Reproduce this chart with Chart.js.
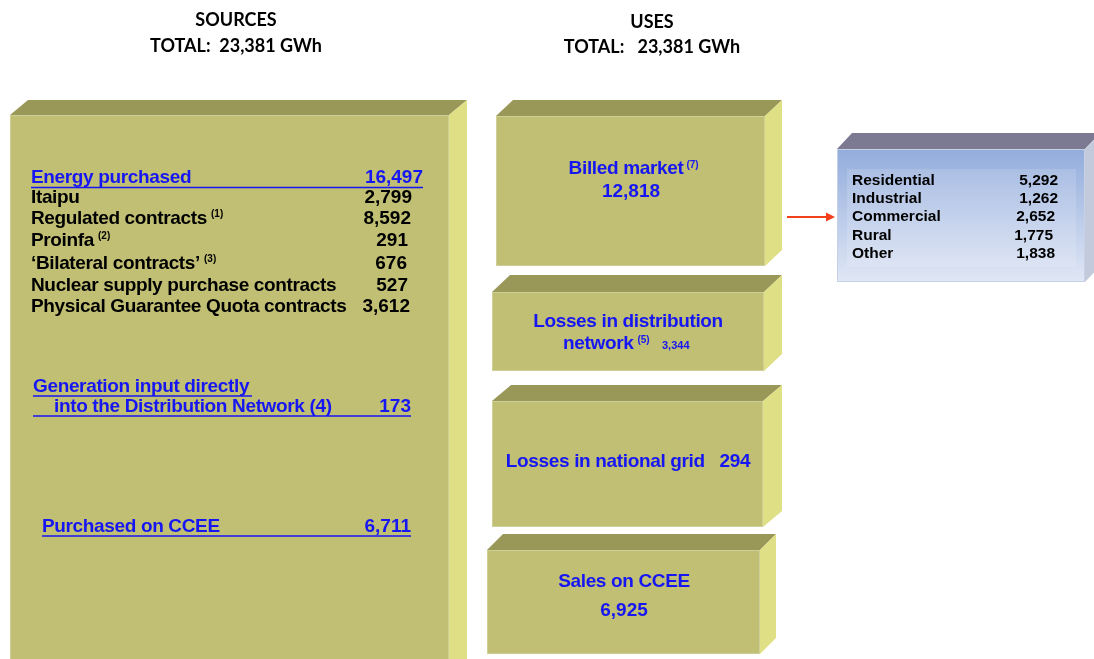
<!DOCTYPE html>
<html>
<head>
<meta charset="utf-8">
<script src="https://cdn.jsdelivr.net/npm/chart.js@4"></script>
<style>
  html, body { margin: 0; padding: 0; background: #fff; }
  #wrap { width: 1094px; height: 659px; }
</style>
</head>
<body>
<div id="wrap"><canvas id="flow" width="1094" height="659"></canvas></div>
<script>
// values in GWh
const totalSources = 23381;
const totalUses = 23381;

const energyPurchased = 16497;
const sourceLabels = ['Itaipu', 'Regulated contracts', 'Proinfa', '\u2018Bilateral contracts\u2019', 'Nuclear supply purchase contracts', 'Physical Guarantee Quota contracts'];
const sourceNotes = ['', '(1)', '(2)', '(3)', '', ''];
const sourceValues = [2799, 8592, 291, 676, 527, 3612];
const generationInput = 173;
const purchasedCCEE = 6711;

const useLabels = ['Billed market', 'Losses in distribution network', 'Losses in national grid', 'Sales on CCEE'];
const useNotes = ['(7)', '(5)', '', ''];
const useValues = [12818, 3344, 294, 6925];

const billedLabels = ['Residential', 'Industrial', 'Commercial', 'Rural', 'Other'];
const billedValues = [5292, 1262, 2652, 1775, 1838];

const BLUE = '#1616f2';
const fmt = v => v.toLocaleString('en-US');

// 3d box: front face x0..x1, y0..y1 (scale units), depth dx/dy
function drawBox(chart, b, colors) {
  const ctx = chart.ctx, sx = chart.scales.x, sy = chart.scales.y;
  const X = v => sx.getPixelForValue(v), Y = v => sy.getPixelForValue(v);
  const x0 = X(b.x0), x1 = X(b.x1), y0 = Y(b.y0), y1 = Y(b.y1);
  const dx = b.dx, dy = b.dy;
  ctx.save();
  // top
  ctx.fillStyle = colors.top;
  ctx.beginPath();
  ctx.moveTo(x0, y0); ctx.lineTo(x0 + dx, y0 - dy); ctx.lineTo(x1 + dx, y0 - dy); ctx.lineTo(x1, y0);
  ctx.closePath(); ctx.fill();
  // side
  ctx.fillStyle = colors.side;
  ctx.beginPath();
  ctx.moveTo(x1, y0); ctx.lineTo(x1 + dx, y0 - dy); ctx.lineTo(x1 + dx, y1 - dy); ctx.lineTo(x1, y1);
  ctx.closePath(); ctx.fill();
  // front
  if (colors.frontGrad) {
    const g = ctx.createLinearGradient(0, y0, 0, y1);
    g.addColorStop(0, colors.frontGrad[0]);
    g.addColorStop(1, colors.frontGrad[1]);
    ctx.fillStyle = g;
  } else {
    ctx.fillStyle = colors.front;
  }
  ctx.fillRect(x0, y0, x1 - x0, y1 - y0);
  ctx.strokeStyle = colors.edge;
  ctx.lineWidth = 1;
  ctx.strokeRect(x0 + 0.5, y0 + 0.5, x1 - x0 - 1, y1 - y0 - 1);
  ctx.restore();
}

function text(chart, str, x, y, opt) {
  const ctx = chart.ctx, sx = chart.scales.x, sy = chart.scales.y;
  ctx.save();
  ctx.font = opt.font;
  ctx.fillStyle = opt.color || '#000';
  ctx.textAlign = opt.align || 'left';
  ctx.textBaseline = 'middle';
  if (opt.spacing) ctx.letterSpacing = opt.spacing;
  const px = sx.getPixelForValue(x), py = sy.getPixelForValue(y);
  ctx.fillText(str, px, py);
  const w = ctx.measureText(str).width;
  ctx.restore();
  return w;
}

function underline(chart, xa, xb, y, color) {
  const ctx = chart.ctx, sx = chart.scales.x, sy = chart.scales.y;
  ctx.save();
  ctx.strokeStyle = color;
  ctx.lineWidth = 1.6;
  ctx.beginPath();
  ctx.moveTo(sx.getPixelForValue(xa), sy.getPixelForValue(y));
  ctx.lineTo(sx.getPixelForValue(xb), sy.getPixelForValue(y));
  ctx.stroke();
  ctx.restore();
}

const OLIVE = { front: '#c0bf73', top: '#9a9859', side: '#dfdf86', edge: '#cfcf98' };
const BLUEBOX = { frontGrad: ['#92acdc', '#e0e7f5'], top: '#7c7a92', side: '#c3cadb', edge: '#c6d1e8' };

const F = 'bold 19px "Liberation Sans", Arial, sans-serif';
const FSUP = 'bold 10px "Liberation Sans", Arial, sans-serif';
const FHEAD = 'bold 18px Lato, "Open Sans", sans-serif';
const FTAB = 'bold 15.5px "Liberation Sans", Arial, sans-serif';
const SP = '-0.35px';

const flowPlugin = {
  id: 'flow',
  afterDraw(chart) {
    const ctx = chart.ctx;
    // headers
    text(chart, 'SOURCES', 236, 20, { font: FHEAD, align: 'center' });
    text(chart, 'TOTAL:  ' + fmt(totalSources) + ' GWh', 236, 46, { font: FHEAD, align: 'center' });
    text(chart, 'USES', 652, 22, { font: FHEAD, align: 'center' });
    text(chart, 'TOTAL:   ' + fmt(totalUses) + ' GWh', 652, 47, { font: FHEAD, align: 'center' });

    // boxes
    drawBox(chart, { x0: 10, y0: 115, x1: 449, y1: 690, dx: 18, dy: 15 }, OLIVE);
    drawBox(chart, { x0: 496, y0: 116, x1: 765, y1: 266, dx: 17, dy: 16 }, OLIVE);
    drawBox(chart, { x0: 492, y0: 292, x1: 764, y1: 371, dx: 18, dy: 17 }, OLIVE);
    drawBox(chart, { x0: 492, y0: 401, x1: 763, y1: 527, dx: 19, dy: 16 }, OLIVE);
    drawBox(chart, { x0: 487, y0: 550, x1: 760, y1: 654, dx: 16, dy: 16 }, OLIVE);
    drawBox(chart, { x0: 837, y0: 149, x1: 1085, y1: 282, dx: 15, dy: 16 }, BLUEBOX);

    // sources box
    text(chart, 'Energy purchased', 31, 178, { font: F, color: BLUE, spacing: SP });
    text(chart, fmt(energyPurchased), 423, 178, { font: F, color: BLUE, align: 'right' });
    underline(chart, 31, 423, 187.5, BLUE);
    const rowY = [198, 219, 241, 264, 286, 307];
    const valRight = [412, 411, 408, 407, 408, 410];
    sourceLabels.forEach((lab, i) => {
      const w = text(chart, lab, 31, rowY[i], { font: F, spacing: SP });
      if (sourceNotes[i]) text(chart, sourceNotes[i], 31 + w + 4, rowY[i] - 5, { font: FSUP });
      text(chart, fmt(sourceValues[i]), valRight[i], rowY[i], { font: F, align: 'right' });
    });

    text(chart, 'Generation input directly', 33, 387, { font: F, color: BLUE, spacing: SP });
    underline(chart, 33, 252, 396, BLUE);
    text(chart, 'into the Distribution Network (4)', 54, 407, { font: F, color: BLUE, spacing: SP });
    text(chart, fmt(generationInput), 411, 407, { font: F, color: BLUE, align: 'right' });
    underline(chart, 33, 411, 416, BLUE);

    text(chart, 'Purchased on CCEE', 42, 527, { font: F, color: BLUE, spacing: SP });
    text(chart, fmt(purchasedCCEE), 411, 527, { font: F, color: BLUE, align: 'right' });
    underline(chart, 42, 411, 536, BLUE);

    // uses boxes
    let w = text(chart, useLabels[0], 626, 169, { font: F, color: BLUE, align: 'center', spacing: SP });
    text(chart, useNotes[0], 626 + w / 2 + 3, 165, { font: FSUP, color: BLUE });
    text(chart, fmt(useValues[0]), 631, 192, { font: F, color: BLUE, align: 'center' });

    text(chart, 'Losses in distribution', 628, 322, { font: F, color: BLUE, align: 'center', spacing: SP });
    w = text(chart, 'network', 563, 344, { font: F, color: BLUE, spacing: SP });
    text(chart, useNotes[1], 563 + w + 4, 340, { font: FSUP, color: BLUE });
    text(chart, fmt(useValues[1]), 662, 346, { font: 'bold 11px "Liberation Sans", Arial, sans-serif', color: BLUE });

    text(chart, useLabels[2] + '   ' + fmt(useValues[2]), 628, 462, { font: F, color: BLUE, align: 'center', spacing: SP });

    text(chart, useLabels[3], 624, 582, { font: F, color: BLUE, align: 'center', spacing: SP });
    text(chart, fmt(useValues[3]), 624, 611, { font: F, color: BLUE, align: 'center' });

    // arrow billed market -> breakdown
    const sx = chart.scales.x, sy = chart.scales.y;
    const ax0 = sx.getPixelForValue(787), ax1 = sx.getPixelForValue(835), ay = sy.getPixelForValue(217);
    ctx.save();
    ctx.strokeStyle = '#f2401c';
    ctx.fillStyle = '#f2401c';
    ctx.lineWidth = 2;
    ctx.beginPath(); ctx.moveTo(ax0, ay); ctx.lineTo(ax1 - 6, ay); ctx.stroke();
    ctx.beginPath(); ctx.moveTo(ax1, ay); ctx.lineTo(ax1 - 9, ay - 4.5); ctx.lineTo(ax1 - 9, ay + 4.5); ctx.closePath(); ctx.fill();
    ctx.restore();

    // breakdown table panel
    ctx.save();
    ctx.fillStyle = 'rgba(255,255,255,0.14)';
    ctx.fillRect(sx.getPixelForValue(847), sy.getPixelForValue(169), 229, 98);
    ctx.restore();
    const tabY = [181, 199, 217, 236, 254];
    const tabRight = [1058, 1058, 1055, 1053, 1055];
    billedLabels.forEach((lab, i) => {
      text(chart, lab, 852, tabY[i], { font: FTAB });
      text(chart, fmt(billedValues[i]), tabRight[i], tabY[i], { font: FTAB, align: 'right' });
    });
  }
};

new Chart(document.getElementById('flow'), {
  type: 'scatter',
  data: { datasets: [] },
  options: {
    responsive: false,
    animation: false,
    devicePixelRatio: 1,
    layout: { padding: 0 },
    plugins: { legend: { display: false }, tooltip: { enabled: false } },
    scales: {
      x: { type: 'linear', min: 0, max: 1094, display: false },
      y: { type: 'linear', min: 0, max: 659, reverse: true, display: false }
    }
  },
  plugins: [flowPlugin]
});
</script>
</body>
</html>
